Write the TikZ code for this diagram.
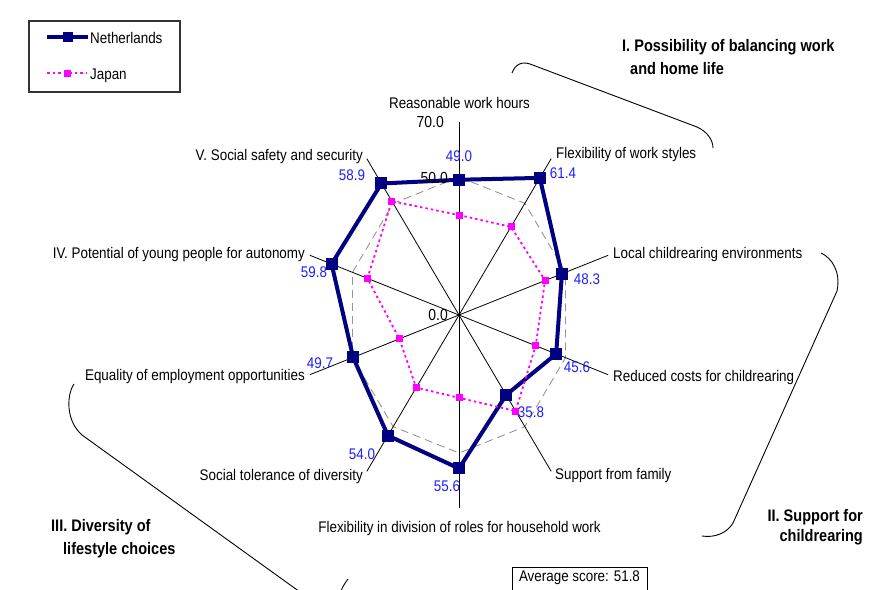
\documentclass[tikz,border=0pt]{standalone}
\usepackage{fontspec}
\setmainfont{Liberation Sans}[FakeStretch=0.87]
\definecolor{navyc}{RGB}{0,0,128}
\definecolor{magc}{RGB}{255,0,255}
\definecolor{valc}{RGB}{30,30,255}
\definecolor{gridc}{RGB}{150,150,150}
\tikzset{
  cat/.style={inner sep=0pt, font=\fontsize{15.4}{18}\selectfont, text height=11pt, text depth=0pt},
  axn/.style={inner sep=0pt, font=\fontsize{16}{18}\selectfont, text height=11.4pt, text depth=0pt, anchor=east},
  val/.style={inner sep=0pt, font=\fontsize{15.4}{18}\selectfont, text height=11pt, text depth=0pt, text=valc},
  head/.style={inner sep=0pt, font=\fontsize{16.7}{20}\selectfont\bfseries, text height=12pt, text depth=0pt},
  spoke/.style={draw=black, line width=0.8pt},
  gridl/.style={draw=gridc, line width=0.9pt, dash pattern=on 8pt off 5pt},
  nlline/.style={draw=navyc, line width=4pt, line join=round},
  jpline/.style={draw=magc, line width=1.8pt, dash pattern=on 2.5pt off 3pt},
  nlmark/.style={rectangle, fill=navyc, minimum size=12pt, inner sep=0pt},
  jpmark/.style={rectangle, fill=magc, minimum size=7pt, inner sep=0pt},
  brace/.style={draw=black, line width=0.9pt},
}
\begin{document}
\begin{tikzpicture}[x=1pt,y=-1pt]
\useasboundingbox (0,0) rectangle (894,589);
\clip (0,0) rectangle (894,589);
\fill[white] (0,0) rectangle (894,589);

% ---------------- radar chart ----------------
\begin{scope}[shift={(459pt,-315pt)}, x=2.24pt, y=2.76pt]
  \coordinate (C) at (0,0);
  \draw[gridl] (90:50) \foreach \i in {1,...,9}{ -- ({90-36*\i}:50)} -- cycle;
  \foreach \i in {0,...,9} \draw[spoke] (C) -- ({90-36*\i}:70) coordinate (E\i);
  \fill[black] (C) circle[radius=1.5pt];
  % Netherlands
  \foreach \i/\v in {0/49.0,1/61.4,2/48.3,3/45.6,4/35.8,5/55.6,6/54.0,7/49.7,8/59.8,9/58.9}
    \coordinate (N\i) at ({90-36*\i}:\v);
  % Japan
  \foreach \i/\v in {0/36.2,1/39.5,2/40.4,3/36,4/43,5/30,6/32.5,7/28,8/43,9/51}
    \coordinate (J\i) at ({90-36*\i}:\v);
  \draw[nlline] (N0) -- (N1) -- (N2) -- (N3) -- (N4) -- (N5) -- (N6) -- (N7) -- (N8) -- (N9) -- cycle;
  \foreach \i in {0,...,9} \node[nlmark] (NM\i) at (N\i) {};
  \draw[jpline] (J0) -- (J1) -- (J2) -- (J3) -- (J4) -- (J5) -- (J6) -- (J7) -- (J8) -- (J9) -- cycle;
  \foreach \i in {0,...,9} \node[jpmark] (JM\i) at (J\i) {};
\end{scope}

% axis numbers
\node[axn] (ax70) at (444,122) {70.0};
\node[axn] (ax50) at (448,178) {50.0};
\node[axn] (ax0) at (448,315) {0.0};

% category labels
\node[cat] (L0) at (459.5,103) {Reasonable work hours};
\node[cat, anchor=west] (L1) at (556,153) {Flexibility of work styles};
\node[cat, anchor=west] (L2) at (613,253) {Local childrearing environments};
\node[cat, anchor=west] (L3) at (613,376) {Reduced costs for childrearing};
\node[cat, anchor=west] (L4) at (555,474) {Support from family};
\node[cat] (L5) at (459.5,526.5) {Flexibility in division of roles for household work};
\node[cat, anchor=east] (L6) at (363,475) {Social tolerance of diversity};
\node[cat, anchor=east] (L7) at (305,375) {Equality of employment opportunities};
\node[cat, anchor=east] (L8) at (305,253) {IV. Potential of young people for autonomy};
\node[cat, anchor=east] (L9) at (363,155) {V. Social safety and security};

% value labels
\node[val] (V0) at (459,156) {49.0};
\node[val] (V1) at (563,173) {61.4};
\node[val] (V2) at (587,279) {48.3};
\node[val] (V3) at (577,367) {45.6};
\node[val] (V4) at (531,412) {35.8};
\node[val] (V5) at (447,486) {55.6};
\node[val] (V6) at (362,454) {54.0};
\node[val] (V7) at (320,363) {49.7};
\node[val] (V8) at (314,272) {59.8};
\node[val] (V9) at (352,175) {58.9};

% legend
\draw[draw=black!80, line width=1.2pt] (29,21) rectangle (180,92);
\draw[nlline] (47,37) -- (88,37);
\node[nlmark, minimum size=10pt] (lgN) at (67.5,37) {};
\node[cat, anchor=west] (lgNt) at (90,38) {Netherlands};
\draw[jpline] (47,73) -- (87,73);
\node[jpmark] (lgJ) at (67,73) {};
\node[cat, anchor=west] (lgJt) at (90,74) {Japan};

% group headings
\node[head, anchor=west] (H1a) at (622,45) {I. Possibility of balancing work};
\node[head, anchor=west] (H1b) at (630,68) {and home life};
\node[head, anchor=east] (H2a) at (863,515) {II. Support for};
\node[head, anchor=east] (H2b) at (863,535) {childrearing};
\node[head, anchor=west] (H3a) at (51,525) {III. Diversity of};
\node[head, anchor=west] (H3b) at (63,548) {lifestyle choices};

% braces
\draw[brace] (512,73) .. controls (515,65) and (521,61) .. (530,64) -- (697,127) .. controls (706,131) and (713,139) .. (713,148);
\draw[brace] (821,253) .. controls (832,258) and (841,272) .. (837,291) -- (733,523) .. controls (727,533) and (715,538) .. (702,536);
\draw[brace] (74,384) .. controls (67,394) and (65,420) .. (82,435) -- (300,592);
\draw[brace] (348,579) .. controls (345,583) and (343,586) .. (341,591);

% average score
\draw[draw=black, line width=0.9pt] (512,567) rectangle (647,600);
\node[cat] (avg) at (579.5,576) {Average score: 51.8};
\end{tikzpicture}
\end{document}
